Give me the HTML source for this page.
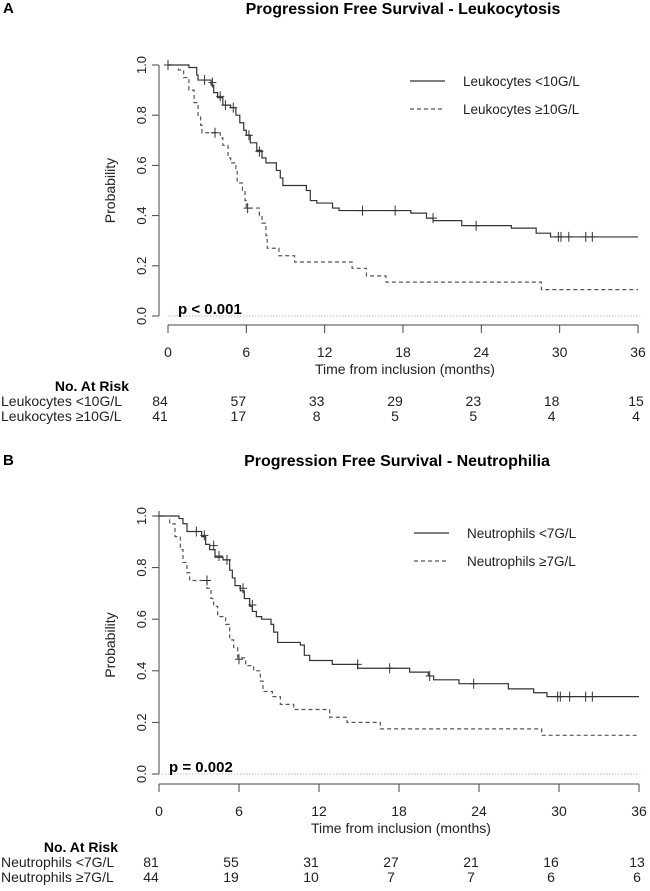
<!DOCTYPE html>
<html><head><meta charset="utf-8">
<style>
body{margin:0;background:#fff;}
svg{display:block;font-family:"Liberation Sans",Arial,sans-serif;}
</style></head>
<body>
<svg id="chart" width="650" height="891" viewBox="0 0 650 891" xmlns="http://www.w3.org/2000/svg"></svg>
<script>
// ---------- Panel A data ----------
const xTicks = [0, 6, 12, 18, 24, 30, 36];
const yTicks = [0.0, 0.2, 0.4, 0.6, 0.8, 1.0];
const yTickLabels = ["0.0", "0.2", "0.4", "0.6", "0.8", "1.0"];
const aSolidTimes = [0,1.6,2.2,2.3,3.3,3.5,3.8,4.2,4.8,5.2,5.5,5.8,6.0,6.3,6.8,7.2,7.5,8.3,8.6,8.8,10.6,10.9,11.4,12.6,13.1,18.6,19.8,20.3,22.5,26.3,28.2,29.3];
const aSolidSurv  = [1,0.99,0.96,0.94,0.92,0.89,0.87,0.84,0.83,0.80,0.77,0.74,0.72,0.69,0.66,0.63,0.61,0.58,0.55,0.52,0.50,0.46,0.45,0.43,0.42,0.41,0.39,0.38,0.36,0.35,0.33,0.315];
const aSolidCensT = [2.8,3.4,4.0,4.4,5.0,6.2,7.0,14.9,17.4,20.3,23.6,29.9,30.1,30.7,32.0,32.5];
const aSolidCensS = [0.94,0.93,0.875,0.84,0.83,0.72,0.655,0.42,0.42,0.39,0.36,0.315,0.315,0.315,0.315,0.315];
const aDashTimes = [0,0.8,1.2,1.6,2.0,2.3,2.5,2.6,4.0,4.2,4.6,4.8,5.2,5.3,5.7,5.9,6.0,7.0,7.2,7.5,7.6,8.5,9.7,14.1,15.2,16.7,28.6];
const aDashSurv  = [1,0.98,0.95,0.90,0.85,0.80,0.76,0.73,0.71,0.68,0.63,0.61,0.58,0.53,0.50,0.46,0.43,0.40,0.37,0.32,0.27,0.24,0.215,0.19,0.16,0.135,0.105];
const aDashCensT = [3.6,6.1];
const aDashCensS = [0.73,0.43];
const aRiskLabels = ["Leukocytes <10G/L","Leukocytes \u226510G/L"];
const aRisk1 = [84,57,33,29,23,18,15];
const aRisk2 = [41,17,8,5,5,4,4];
// ---------- Panel B data ----------
const bSolidTimes = [0,1.5,1.8,2.1,3.2,3.5,3.8,4.2,4.8,5.3,5.5,5.7,6.1,6.4,6.8,7.0,7.3,7.7,8.4,8.6,8.9,10.6,10.9,11.3,13.0,14.9,18.8,20.2,20.6,22.5,26.2,28.1,29.1];
const bSolidSurv  = [1,0.99,0.97,0.94,0.92,0.89,0.87,0.84,0.83,0.79,0.76,0.73,0.71,0.68,0.65,0.63,0.61,0.60,0.58,0.55,0.51,0.50,0.46,0.44,0.425,0.41,0.395,0.38,0.365,0.35,0.33,0.315,0.30];
const bSolidCensT = [2.8,3.4,4.1,4.5,5.1,6.3,7.0,14.9,17.3,20.3,23.6,29.9,30.1,30.8,32.0,32.5];
const bSolidCensS = [0.94,0.925,0.885,0.845,0.83,0.72,0.655,0.425,0.41,0.38,0.35,0.30,0.30,0.30,0.30,0.30];
const bDashTimes = [0,0.8,1.2,1.6,1.8,2.1,2.3,3.6,3.9,4.1,4.4,5.0,5.3,5.6,5.9,6.5,7.1,7.6,7.8,8.5,9.1,10.1,12.8,14.1,16.6,28.7];
const bDashSurv  = [1,0.97,0.92,0.87,0.82,0.78,0.75,0.72,0.68,0.65,0.61,0.58,0.52,0.49,0.45,0.42,0.40,0.36,0.32,0.30,0.27,0.25,0.22,0.20,0.175,0.15];
const bDashCensT = [3.6,6.0];
const bDashCensS = [0.75,0.445];
const bRiskLabels = ["Neutrophils <7G/L","Neutrophils \u22657G/L"];
const bRisk1 = [81,55,31,27,21,16,13];
const bRisk2 = [44,19,10,7,7,6,6];

const NS = "http://www.w3.org/2000/svg";
const svg = document.getElementById("chart");
function el(tag, attrs, parent){
  const e = document.createElementNS(NS, tag);
  for (const k in attrs) e.setAttribute(k, attrs[k]);
  (parent||svg).appendChild(e);
  return e;
}
function txt(s, attrs, parent){ const t = el("text", attrs, parent); t.textContent = s; return t; }

function panel(cfg){
  const g = el("g", {});
  
  
  const X = t => cfg.x0 + (t/36)*(cfg.x1-cfg.x0);
  const Y = s => cfg.y0 - s*(cfg.y0-cfg.y1);
  // letter
  const L = txt(cfg.letter, {x:3, y:cfg.titleY+5, "font-size":15, "font-weight":"bold"}, g);
  
  
  const T = txt(cfg.title, {x:cfg.titleX, y:cfg.titleY+6, "font-size":16, "font-weight":"bold", "text-anchor":"middle"}, g);
  
  
  // y axis
  const ya = el("g", {}, g);
  
  
  el("line", {x1:cfg.yAxisX, x2:cfg.yAxisX, y1:Y(1), y2:Y(0), stroke:"#444", "stroke-width":1}, ya);
  yTicks.forEach((v,i)=>{
    el("line", {x1:cfg.yAxisX-7, x2:cfg.yAxisX, y1:Y(v), y2:Y(v), stroke:"#444"}, ya);
    const lt = txt(yTickLabels[i], {x:0, y:0, "font-size":13, "text-anchor":"middle", transform:`translate(${cfg.yAxisX-13},${Y(v)}) rotate(-90)`, fill:"#222"}, ya);
    
    
  });
  const yt = txt("Probability", {x:0, y:0, "font-size":14, "text-anchor":"middle", transform:`translate(${cfg.yAxisX-44},${(Y(0)+Y(1))/2}) rotate(-90)`, fill:"#222"}, g);
  
  
  // x axis
  const xa = el("g", {}, g);
  
  
  el("line", {x1:X(0), x2:X(36), y1:cfg.xAxisY, y2:cfg.xAxisY, stroke:"#444"}, xa);
  xTicks.forEach(v=>{
    el("line", {x1:X(v), x2:X(v), y1:cfg.xAxisY, y2:cfg.xAxisY+8, stroke:"#444"}, xa);
    const lt = txt(String(v), {x:X(v), y:cfg.xAxisY+32, "font-size":14, "text-anchor":"middle", fill:"#222"}, xa);
    
    
  });
  const xt = txt("Time from inclusion (months)", {x:(X(0)+X(36))/2+2, y:cfg.xAxisY+49, "font-size":14, "text-anchor":"middle", fill:"#222"}, g);
  
  
  // zero reference line
  const zl = el("line", {x1:X(0), x2:X(36), y1:Y(0), y2:Y(0), stroke:"#d9a0e6", "stroke-dasharray":"1.5,1.5"}, g);
  
  
  const pv = txt(cfg.pText, {x:X(0)+10, y:Y(0)-2, "font-size":15, "font-weight":"bold"}, g);
  
  
  // curves
  function curve(times, surv, dashed, name){
    let d = `M${X(times[0])},${Y(surv[0])}`;
    for (let i=1;i<times.length;i++){ d += ` H${X(times[i])} V${Y(surv[i])}`; }
    d += ` H${X(36)}`;
    const p = el("path", {d, fill:"none", stroke:dashed?"#555":"#333", "stroke-width":1.2, "stroke-dasharray":dashed?"4,3":"none"}, g);
    
    
  }
  function cens(ts, ss, name){
    ts.forEach((t,i)=>{
      const c = el("path", {d:`M${X(t)-4},${Y(ss[i])} H${X(t)+4} M${X(t)},${Y(ss[i])-5} V${Y(ss[i])+5}`, stroke:"#333", "stroke-width":1}, g);
      
      
    });
  }
  curve(cfg.sT, cfg.sS, false, 'curve-low');
  curve(cfg.dT, cfg.dS, true, 'curve-high');
  cens(cfg.scT, cfg.scS, 'censor-mark-low');
  cens(cfg.dcT, cfg.dcS, 'censor-mark-high');
  el("line", {x1:X(0)-4, x2:X(0)+4, y1:Y(1), y2:Y(1), stroke:"#333"}, g);
  el("line", {x1:X(0), x2:X(0), y1:Y(1)-5, y2:Y(1)+5, stroke:"#333"}, g);
  // legend
  const lg = el("g", {}, g);
  
  
  el("line", {x1:cfg.legX, x2:cfg.legX+35, y1:cfg.legY, y2:cfg.legY, stroke:"#333", "stroke-width":1.2}, lg);
  el("line", {x1:cfg.legX, x2:cfg.legX+35, y1:cfg.legY+28, y2:cfg.legY+28, stroke:"#555", "stroke-width":1.2, "stroke-dasharray":"4,3"}, lg);
  const l1 = txt(cfg.risk[0], {x:cfg.legX+53, y:cfg.legY+5, "font-size":13.5, fill:"#222"}, lg);
  
  
  const l2 = txt(cfg.risk[1], {x:cfg.legX+53, y:cfg.legY+33, "font-size":13.5, fill:"#222"}, lg);
  
  
  // risk table
  const rt = el("g", {}, g);
  
  
  const rh = txt("No. At Risk", {x:cfg.riskHeadX, y:cfg.riskY, "font-size":14, "font-weight":"bold", "text-anchor":"end"}, rt);
  
  
  [cfg.r1, cfg.r2].forEach((row, ri)=>{
    const ry = cfg.riskY + 15*(ri+1);
    const lab = txt(cfg.risk[ri], {x:1, y:ry, "font-size":14, fill:"#222"}, rt);
    
    
    row.forEach((v,i)=>{
      const nx = X(xTicks[i]) - (i===row.length-1 ? 2 : 8);
      const n = txt(String(v), {x:nx, y:ry, "font-size":14, "text-anchor":"middle", fill:"#222"}, rt);
      
      
    });
  });
}

panel({name:"panel-a-leukocytosis", letter:"A", title:"Progression Free Survival - Leukocytosis", titleX:403, titleY:8,
  x0:168, x1:638, y0:316, y1:65, yAxisX:159, xAxisY:325, pText:"p < 0.001",
  sT:aSolidTimes, sS:aSolidSurv, dT:aDashTimes, dS:aDashSurv, scT:aSolidCensT, scS:aSolidCensS, dcT:aDashCensT, dcS:aDashCensS,
  legX:410, legY:81, risk:aRiskLabels, r1:aRisk1, r2:aRisk2, riskY:391, riskHeadX:129});
panel({name:"panel-b-neutrophilia", letter:"B", title:"Progression Free Survival - Neutrophilia", titleX:397, titleY:460,
  x0:159, x1:639, y0:774, y1:516, yAxisX:159, xAxisY:784, pText:"p = 0.002",
  sT:bSolidTimes, sS:bSolidSurv, dT:bDashTimes, dS:bDashSurv, scT:bSolidCensT, scS:bSolidCensS, dcT:bDashCensT, dcS:bDashCensS,
  legX:414, legY:533, risk:bRiskLabels, r1:bRisk1, r2:bRisk2, riskY:852, riskHeadX:118});
</script>
</body></html>
